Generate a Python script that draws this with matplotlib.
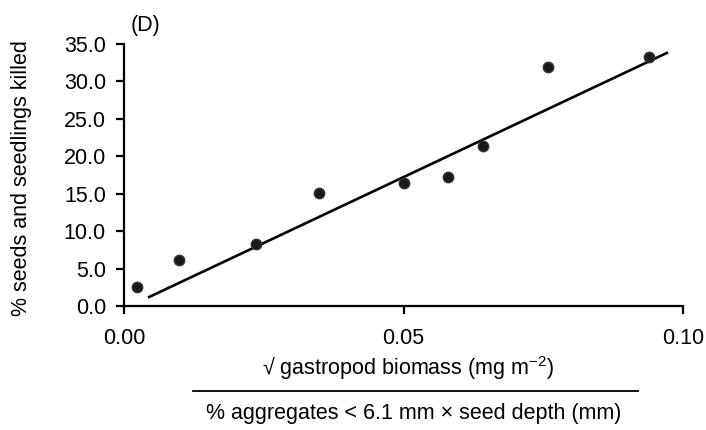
import matplotlib
matplotlib.use("Agg")
import matplotlib.pyplot as plt
from matplotlib.lines import Line2D
from matplotlib.ticker import FixedLocator, FormatStrFormatter

plt.rcParams['font.family'] = ['Liberation Sans', 'DejaVu Sans']
plt.rcParams['mathtext.fontset'] = 'custom'
plt.rcParams['mathtext.rm'] = 'Liberation Sans'
plt.rcParams['mathtext.it'] = 'Liberation Sans:italic'

# data
gastro_x = [0.0024, 0.0098, 0.0237, 0.0349, 0.0500, 0.0579, 0.0643, 0.0759, 0.0939]
killed_y = [2.6, 6.1, 8.3, 15.1, 16.4, 17.2, 21.4, 31.9, 33.2]
fit_x = [0.0045, 0.0971]
fit_y = [1.2, 33.8]
x_ticks = [0.00, 0.05, 0.10]
y_ticks = [0.0, 5.0, 10.0, 15.0, 20.0, 25.0, 30.0, 35.0]

FS = 15.5

fig = plt.figure(figsize=(7.06, 4.30), dpi=100)
ax = fig.add_axes([124/706, 1-306/430, (683-124)/706, (306-44)/430])

ax.plot(fit_x, fit_y, color='black', lw=1.9, zorder=2)
ax.plot(gastro_x, killed_y, 'o', color='#1a1a1a', markersize=7.5,
        markeredgecolor='#333333', zorder=3, clip_on=False)

ax.set_xlim(0, 0.10)
ax.set_ylim(0, 35)
ax.xaxis.set_major_locator(FixedLocator(x_ticks))
ax.yaxis.set_major_locator(FixedLocator(y_ticks))
ax.xaxis.set_major_formatter(FormatStrFormatter('%.2f'))
ax.yaxis.set_major_formatter(FormatStrFormatter('%.1f'))
for s in ['top', 'right']:
    ax.spines[s].set_visible(False)
for s in ['left', 'bottom']:
    ax.spines[s].set_linewidth(1.6)
ax.tick_params(axis='both', direction='out', length=6, width=1.6,
               labelsize=FS, colors='black')
ax.tick_params(axis='x', pad=10)
ax.tick_params(axis='y', pad=7)

ax.set_ylabel('% seeds and seedlings killed', fontsize=FS)
ax.yaxis.set_label_coords(-(124-32)/559, (306-178)/262)

fig.text(146/706, 1-25/430, '(D)', fontsize=FS, ha='center', va='center')
fig.text(408/706, 1-368/430, r'√ gastropod biomass (mg m$^{-2}$)',
         fontsize=FS, ha='center', va='center')
fig.add_artist(Line2D([193/706, 638/706], [1-391/430, 1-391/430],
                      transform=fig.transFigure, color='black', lw=1.3))
fig.text(414/706, 1-413/430, '% aggregates < 6.1 mm × seed depth (mm)',
         fontsize=FS, ha='center', va='center')

fig.savefig('out.png', dpi=100)
